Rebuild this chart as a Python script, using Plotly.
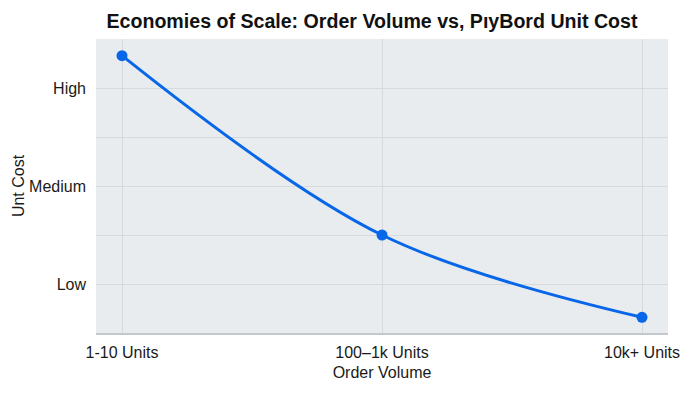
import plotly.graph_objects as go

categories = ["1-10 Units", "100\u20131k Units", "10k+ Units"]
cost_values = [3.33, 1.5, 0.66]
y_tick_vals = [1, 1.5, 2, 2.5, 3]
y_tick_text = ["Low", "", "Medium", "", "High"]

fig = go.Figure()
fig.add_trace(go.Scatter(
    x=[0, 1, 2], y=cost_values,
    mode="lines+markers",
    line=dict(color="#0866e8", width=3, shape="spline", smoothing=1.0),
    marker=dict(color="#0866e8", size=11),
    showlegend=False,
))

fig.update_layout(
    width=692, height=385,
    margin=dict(l=88, r=32, t=31, b=60, autoexpand=False),
    paper_bgcolor="white",
    plot_bgcolor="#e9ecef",
    font=dict(family="Liberation Sans, Arial, sans-serif", size=16, color="#1a1a1a"),
    title=dict(text="<b>Economies of Scale: Order Volume vs, P\u0131yBord Unit Cost</b>",
               x=0.526, xanchor="center", y=1 - 13 / 385, yanchor="middle",
               font=dict(size=19.6, color="#111111")),
    xaxis=dict(
        range=[-0.1, 2.1],
        tickvals=[0, 1, 2], ticktext=categories,
        showgrid=True, gridcolor="#d6dadf", gridwidth=1,
        showline=True, linecolor="#c4c8cc", linewidth=1.5,
        zeroline=False, automargin=False,
        title=dict(text="Order Volume", standoff=7, font=dict(size=16)),
        ticks="", ticklabelstandoff=4,
    ),
    yaxis=dict(
        range=[0.5, 3.5],
        tickvals=y_tick_vals, ticktext=y_tick_text,
        showgrid=True, gridcolor="#d6dadf", gridwidth=1,
        zeroline=False, showline=False, automargin=False,
        title=dict(text="Unt Cost", standoff=0, font=dict(size=16)),
        ticks="", ticklabelstandoff=9,
    ),
)

fig.write_html("out.html")
